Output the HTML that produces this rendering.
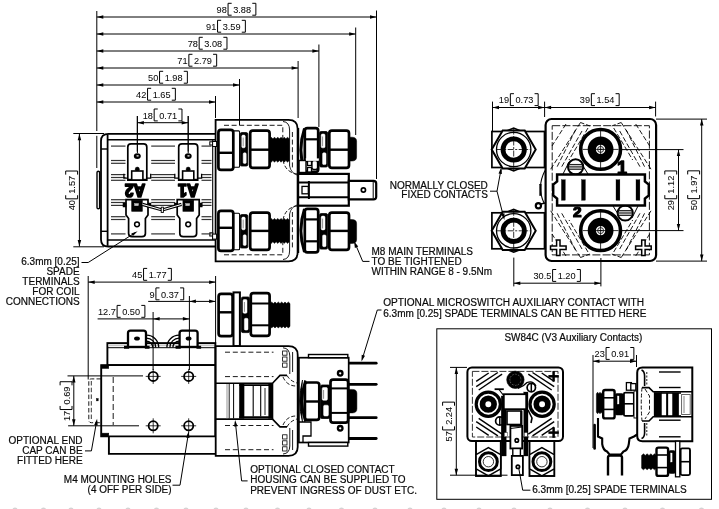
<!DOCTYPE html>
<html><head><meta charset="utf-8"><title>SW84 drawing</title>
<style>
html,body{margin:0;padding:0;background:#fff;}
body{width:719px;height:509px;overflow:hidden;}
svg{display:block;will-change:transform;font-family:"Liberation Sans",sans-serif;}
svg text{fill:#0a0a0a;stroke:#0a0a0a;stroke-width:0.2px;}
</style></head><body>
<svg width="719" height="509" viewBox="0 0 719 509">
<rect x="0" y="0" width="719" height="509" fill="#fff" stroke="none"/>
<path d="M216 133.8H108.5Q101 133.8 101 141V239.4Q101 246.5 108.5 246.5H216" stroke="#000" stroke-width="1.8" fill="#fff" />
<path d="M216 139.7H107.6" stroke="#000" stroke-width="1.5" fill="none" />
<path d="M216 240.1H107.6" stroke="#000" stroke-width="1.5" fill="none" />
<line x1="107.6" y1="134.5" x2="107.6" y2="245.8" stroke="#000" stroke-width="1.8" />
<line x1="101.0" y1="149.0" x2="107.6" y2="149.0" stroke="#000" stroke-width="1.4" />
<line x1="101.0" y1="231.3" x2="107.6" y2="231.3" stroke="#000" stroke-width="1.4" />
<line x1="212.7" y1="139.7" x2="212.7" y2="240.1" stroke="#000" stroke-width="1.1" />
<rect x="97.0" y="171.3" width="2.6" height="37.5" rx="1.3" stroke="#000" stroke-width="1.4" fill="#fff" />
<rect x="209.8" y="141.8" width="3.0" height="3.2" rx="0" stroke="#000" stroke-width="1.0" fill="#fff" />
<rect x="209.8" y="232.8" width="3.0" height="3.2" rx="0" stroke="#000" stroke-width="1.0" fill="#fff" />
<line x1="111.0" y1="146.1" x2="125.5" y2="146.1" stroke="#333" stroke-width="1.2" />
<line x1="151.2" y1="146.1" x2="175.0" y2="146.1" stroke="#333" stroke-width="1.2" />
<line x1="201.5" y1="146.1" x2="211.5" y2="146.1" stroke="#333" stroke-width="1.2" />
<line x1="111.0" y1="233.9" x2="125.5" y2="233.9" stroke="#333" stroke-width="1.2" />
<line x1="151.2" y1="233.9" x2="175.0" y2="233.9" stroke="#333" stroke-width="1.2" />
<line x1="201.5" y1="233.9" x2="211.5" y2="233.9" stroke="#333" stroke-width="1.2" />
<line x1="111.0" y1="160.5" x2="125.5" y2="160.5" stroke="#333" stroke-width="1.2" />
<line x1="151.2" y1="160.5" x2="175.0" y2="160.5" stroke="#333" stroke-width="1.2" />
<line x1="201.5" y1="160.5" x2="211.5" y2="160.5" stroke="#333" stroke-width="1.2" />
<line x1="111.0" y1="219.5" x2="125.5" y2="219.5" stroke="#333" stroke-width="1.2" />
<line x1="151.2" y1="219.5" x2="175.0" y2="219.5" stroke="#333" stroke-width="1.2" />
<line x1="201.5" y1="219.5" x2="211.5" y2="219.5" stroke="#333" stroke-width="1.2" />
<line x1="111.0" y1="163.3" x2="125.5" y2="163.3" stroke="#333" stroke-width="1.2" />
<line x1="151.2" y1="163.3" x2="175.0" y2="163.3" stroke="#333" stroke-width="1.2" />
<line x1="201.5" y1="163.3" x2="211.5" y2="163.3" stroke="#333" stroke-width="1.2" />
<line x1="111.0" y1="216.7" x2="125.5" y2="216.7" stroke="#333" stroke-width="1.2" />
<line x1="151.2" y1="216.7" x2="175.0" y2="216.7" stroke="#333" stroke-width="1.2" />
<line x1="201.5" y1="216.7" x2="211.5" y2="216.7" stroke="#333" stroke-width="1.2" />
<line x1="111.0" y1="174.6" x2="125.5" y2="174.6" stroke="#333" stroke-width="1.2" />
<line x1="151.2" y1="174.6" x2="175.0" y2="174.6" stroke="#333" stroke-width="1.2" />
<line x1="201.5" y1="174.6" x2="211.5" y2="174.6" stroke="#333" stroke-width="1.2" />
<line x1="111.0" y1="205.4" x2="125.5" y2="205.4" stroke="#333" stroke-width="1.2" />
<line x1="151.2" y1="205.4" x2="175.0" y2="205.4" stroke="#333" stroke-width="1.2" />
<line x1="201.5" y1="205.4" x2="211.5" y2="205.4" stroke="#333" stroke-width="1.2" />
<line x1="111.0" y1="177.5" x2="125.5" y2="177.5" stroke="#333" stroke-width="1.2" />
<line x1="151.2" y1="177.5" x2="175.0" y2="177.5" stroke="#333" stroke-width="1.2" />
<line x1="201.5" y1="177.5" x2="211.5" y2="177.5" stroke="#333" stroke-width="1.2" />
<line x1="111.0" y1="202.5" x2="125.5" y2="202.5" stroke="#333" stroke-width="1.2" />
<line x1="151.2" y1="202.5" x2="175.0" y2="202.5" stroke="#333" stroke-width="1.2" />
<line x1="201.5" y1="202.5" x2="211.5" y2="202.5" stroke="#333" stroke-width="1.2" />
<line x1="111.0" y1="180.3" x2="125.5" y2="180.3" stroke="#333" stroke-width="1.2" />
<line x1="151.2" y1="180.3" x2="175.0" y2="180.3" stroke="#333" stroke-width="1.2" />
<line x1="201.5" y1="180.3" x2="211.5" y2="180.3" stroke="#333" stroke-width="1.2" />
<line x1="111.0" y1="199.7" x2="125.5" y2="199.7" stroke="#333" stroke-width="1.2" />
<line x1="151.2" y1="199.7" x2="175.0" y2="199.7" stroke="#333" stroke-width="1.2" />
<line x1="201.5" y1="199.7" x2="211.5" y2="199.7" stroke="#333" stroke-width="1.2" />
<path d="M123.9 173.8V178.2H127.7" stroke="#000" stroke-width="1.3" fill="none" />
<path d="M150.7 173.8V178.2H146.9" stroke="#000" stroke-width="1.3" fill="none" />
<path d="M127.8 180.2V147Q127.8 143.8 131.0 143.8H143.6Q146.8 143.8 146.8 147V180.2Z" stroke="#000" stroke-width="1.7" fill="#fff" />
<line x1="127.8" y1="179.9" x2="146.8" y2="179.9" stroke="#000" stroke-width="2.2" />
<ellipse cx="137.3" cy="156.1" rx="3.5" ry="2.9" fill="#000"/>
<ellipse cx="137.6" cy="155.8" rx="1.3" ry="0.9" fill="#bbb"/>
<circle cx="137.3" cy="169.2" r="2.1" stroke="#000" stroke-width="0.5" fill="#000"/>
<rect x="131.7" y="171.0" width="11.2" height="9.0" rx="0" stroke="#000" stroke-width="1.6" fill="#fff" />
<line x1="137.3" y1="116.0" x2="137.3" y2="151.5" stroke="#000" stroke-width="1.0" />
<path d="M174.8 173.8V178.2H178.6" stroke="#000" stroke-width="1.3" fill="none" />
<path d="M201.6 173.8V178.2H197.8" stroke="#000" stroke-width="1.3" fill="none" />
<path d="M178.7 180.2V147Q178.7 143.8 181.9 143.8H194.5Q197.7 143.8 197.7 147V180.2Z" stroke="#000" stroke-width="1.7" fill="#fff" />
<line x1="178.7" y1="179.9" x2="197.7" y2="179.9" stroke="#000" stroke-width="2.2" />
<ellipse cx="188.2" cy="156.1" rx="3.5" ry="2.9" fill="#000"/>
<ellipse cx="188.5" cy="155.8" rx="1.3" ry="0.9" fill="#bbb"/>
<circle cx="188.2" cy="169.2" r="2.1" stroke="#000" stroke-width="0.5" fill="#000"/>
<rect x="182.6" y="171.0" width="11.2" height="9.0" rx="0" stroke="#000" stroke-width="1.6" fill="#fff" />
<line x1="188.2" y1="116.0" x2="188.2" y2="151.5" stroke="#000" stroke-width="1.0" />
<text transform="translate(135 184.0) rotate(180) scale(0.92 1)" font-size="17.5" font-weight="bold" text-anchor="middle" style="fill:#000;stroke:#000;stroke-width:1.7px;stroke-linejoin:round">A2</text>
<text transform="translate(188.3 184.0) rotate(180) scale(0.92 1)" font-size="17.5" font-weight="bold" text-anchor="middle" style="fill:#000;stroke:#000;stroke-width:1.7px;stroke-linejoin:round">A1</text>
<path d="M126.0 199.6H148.0V215L145.4 218.5V233.5Q145.4 236.6 142.0 236.6H132.0Q128.6 236.6 128.6 233.5V218.5L126.0 215Z" stroke="#000" stroke-width="1.7" fill="#fff" />
<rect x="123.0" y="203.0" width="3.0" height="4.0" rx="0" stroke="#000" stroke-width="0.5" fill="#000" />
<rect x="148.0" y="203.0" width="3.0" height="4.0" rx="0" stroke="#000" stroke-width="0.5" fill="#000" />
<rect x="131.8" y="200.2" width="10.4" height="11.0" rx="0" stroke="#000" stroke-width="0.8" fill="#000" />
<rect x="134.5" y="203.5" width="4.0" height="2.2" rx="0" stroke="#ccc" stroke-width="0.4" fill="#ccc" />
<circle cx="137.0" cy="224.3" r="2.4" stroke="#000" stroke-width="1.5" fill="#fff"/>
<path d="M177.2 199.6H199.2V215L196.6 218.5V233.5Q196.6 236.6 193.2 236.6H183.2Q179.8 236.6 179.8 233.5V218.5L177.2 215Z" stroke="#000" stroke-width="1.7" fill="#fff" />
<rect x="174.2" y="203.0" width="3.0" height="4.0" rx="0" stroke="#000" stroke-width="0.5" fill="#000" />
<rect x="199.2" y="203.0" width="3.0" height="4.0" rx="0" stroke="#000" stroke-width="0.5" fill="#000" />
<rect x="183.0" y="200.2" width="10.4" height="11.0" rx="0" stroke="#000" stroke-width="0.8" fill="#000" />
<rect x="185.7" y="203.5" width="4.0" height="2.2" rx="0" stroke="#ccc" stroke-width="0.4" fill="#ccc" />
<circle cx="188.2" cy="224.3" r="2.4" stroke="#000" stroke-width="1.5" fill="#fff"/>
<path d="M142.5 204.4L160.5 209.5H164L181.5 204.4" stroke="#000" stroke-width="3.2" fill="none" />
<path d="M142.5 204.4L160.5 209.5H164L181.5 204.4" stroke="#fff" stroke-width="1.0" fill="none" />
<rect x="161.2" y="207.2" width="2.2" height="5.2" rx="0" stroke="#000" stroke-width="0.9" fill="#fff" />
<path d="M215.6 119.8H288.5Q297.6 119.8 297.6 128.5V252.5Q297.6 261.3 288.5 261.3H215.6Z" stroke="#000" stroke-width="1.8" fill="#fff" />
<path d="M224 125.3H282.8V160" stroke="#000" stroke-width="0.9" fill="none" stroke-dasharray="5 2.6"/>
<path d="M224 254.8H282.8V220" stroke="#000" stroke-width="0.9" fill="none" stroke-dasharray="5 2.6"/>
<path d="M283 121.5Q289.5 122 289.6 130V166" stroke="#000" stroke-width="0.9" fill="none" />
<path d="M283 259.5Q289.5 259 289.6 251V214" stroke="#000" stroke-width="0.9" fill="none" />
<line x1="292.4" y1="132.0" x2="292.4" y2="168.0" stroke="#000" stroke-width="0.9" stroke-dasharray="5 2.6"/>
<line x1="292.4" y1="212.0" x2="292.4" y2="248.0" stroke="#000" stroke-width="0.9" stroke-dasharray="5 2.6"/>
<path d="M283 160Q285 172 297 174" stroke="#000" stroke-width="0.9" fill="none" stroke-dasharray="4 2"/>
<path d="M283 220Q285 208 297 206" stroke="#000" stroke-width="0.9" fill="none" stroke-dasharray="4 2"/>
<path d="M289.6 166Q291 173 297 175" stroke="#000" stroke-width="0.8" fill="none" />
<path d="M289.6 214Q291 207 297 205" stroke="#000" stroke-width="0.8" fill="none" />
<rect x="212.6" y="141.5" width="4.0" height="5.0" rx="0" stroke="#000" stroke-width="1.0" fill="#fff" />
<rect x="233.3" y="130.9" width="6.3" height="36.4" rx="1" stroke="#000" stroke-width="1.1" fill="#fff" />
<rect x="240.2" y="132.6" width="7.6" height="33.4" rx="1.5" stroke="#000" stroke-width="0.8" fill="#000" />
<rect x="241.8" y="135.1" width="3.4" height="12.7" rx="1.2" stroke="#fff" stroke-width="0.5" fill="#fff" />
<rect x="243.2" y="152.8" width="3.0" height="10.7" rx="1.2" stroke="#fff" stroke-width="0.5" fill="#fff" />
<line x1="243.2" y1="137.6" x2="243.2" y2="146.3" stroke="#444" stroke-width="0.6" />
<rect x="218.4" y="129.8" width="14.9" height="40.0" rx="2.6" stroke="#000" stroke-width="2.7" fill="#fff" />
<line x1="218.4" y1="152.8" x2="233.3" y2="152.8" stroke="#000" stroke-width="2.43" />
<rect x="250.2" y="130.7" width="19.4" height="37.2" rx="2.6" stroke="#000" stroke-width="2.7" fill="#fff" />
<line x1="250.2" y1="149.7" x2="269.6" y2="149.7" stroke="#000" stroke-width="2.43" />
<path d="M269.6 138.8L271.2 137.2L272.9 138.8L274.5 137.2L276.1 138.8L277.8 137.2L279.4 138.8L281.0 137.2L282.7 138.8L284.3 137.2L285.9 138.8L287.6 137.2L289.2 138.8L289.2 160.6L287.6 162.2L285.9 160.6L284.3 162.2L282.7 160.6L281.0 162.2L279.4 160.6L277.8 162.2L276.1 160.6L274.5 162.2L272.9 160.6L271.2 162.2L269.6 160.6Z" stroke="#000" stroke-width="0.5" fill="#000" />
<path d="M304.5 128.5Q297.3 150.0 304.5 171.5" stroke="#000" stroke-width="3.0" fill="none" />
<rect x="304.8" y="128.2" width="13.4" height="43.6" rx="2.6" stroke="#000" stroke-width="2.7" fill="#fff" />
<line x1="304.8" y1="139.3" x2="318.2" y2="139.3" stroke="#000" stroke-width="2.2" />
<line x1="304.8" y1="161.2" x2="318.2" y2="161.2" stroke="#000" stroke-width="2.2" />
<rect x="319.6" y="131.5" width="8.0" height="35.5" rx="1.5" stroke="#000" stroke-width="0.8" fill="#000" />
<rect x="321.2" y="134.0" width="3.8" height="13.8" rx="1.2" stroke="#fff" stroke-width="0.5" fill="#fff" />
<rect x="322.6" y="152.8" width="3.4" height="11.8" rx="1.2" stroke="#fff" stroke-width="0.5" fill="#fff" />
<line x1="322.6" y1="136.5" x2="322.6" y2="146.2" stroke="#444" stroke-width="0.6" />
<rect x="329.3" y="130.7" width="19.7" height="37.2" rx="2.6" stroke="#000" stroke-width="2.7" fill="#fff" />
<line x1="329.3" y1="149.7" x2="349.0" y2="149.7" stroke="#000" stroke-width="2.43" />
<path d="M349 137.2H352Q356.6 137.2 356.6 141.2V157.0Q356.6 161.0 352 161.0H349Z" stroke="#000" stroke-width="0.5" fill="#000" />
<rect x="299.0" y="160.5" width="7.0" height="12.0" rx="0" stroke="#000" stroke-width="1.4" fill="#fff" />
<rect x="307.5" y="161.0" width="4.0" height="4.5" rx="0" stroke="#000" stroke-width="1.3" fill="#fff" />
<rect x="307.5" y="167.5" width="4.0" height="4.5" rx="0" stroke="#000" stroke-width="1.3" fill="#fff" />
<rect x="312.0" y="160.5" width="5.5" height="9.0" rx="2" stroke="#000" stroke-width="1.3" fill="#fff" />
<rect x="306.0" y="158.6" width="12.8" height="2.2" rx="0" stroke="#fff" stroke-width="0.3" fill="#fff" />
<rect x="212.6" y="234.1" width="4.0" height="5.0" rx="0" stroke="#000" stroke-width="1.0" fill="#fff" />
<rect x="233.3" y="213.3" width="6.3" height="36.4" rx="1" stroke="#000" stroke-width="1.1" fill="#fff" />
<rect x="240.2" y="214.6" width="7.6" height="33.4" rx="1.5" stroke="#000" stroke-width="0.8" fill="#000" />
<rect x="241.8" y="217.1" width="3.4" height="12.7" rx="1.2" stroke="#fff" stroke-width="0.5" fill="#fff" />
<rect x="243.2" y="234.8" width="3.0" height="10.7" rx="1.2" stroke="#fff" stroke-width="0.5" fill="#fff" />
<line x1="243.2" y1="219.6" x2="243.2" y2="228.3" stroke="#444" stroke-width="0.6" />
<rect x="218.4" y="210.8" width="14.9" height="40.0" rx="2.6" stroke="#000" stroke-width="2.7" fill="#fff" />
<line x1="218.4" y1="227.8" x2="233.3" y2="227.8" stroke="#000" stroke-width="2.43" />
<rect x="250.2" y="212.7" width="19.4" height="37.2" rx="2.6" stroke="#000" stroke-width="2.7" fill="#fff" />
<line x1="250.2" y1="230.9" x2="269.6" y2="230.9" stroke="#000" stroke-width="2.43" />
<path d="M269.6 220.0L271.2 218.4L272.9 220.0L274.5 218.4L276.1 220.0L277.8 218.4L279.4 220.0L281.0 218.4L282.7 220.0L284.3 218.4L285.9 220.0L287.6 218.4L289.2 220.0L289.2 241.8L287.6 243.4L285.9 241.8L284.3 243.4L282.7 241.8L281.0 243.4L279.4 241.8L277.8 243.4L276.1 241.8L274.5 243.4L272.9 241.8L271.2 243.4L269.6 241.8Z" stroke="#000" stroke-width="0.5" fill="#000" />
<path d="M304.5 252.1Q297.3 230.6 304.5 209.1" stroke="#000" stroke-width="3.0" fill="none" />
<rect x="304.8" y="208.8" width="13.4" height="43.6" rx="2.6" stroke="#000" stroke-width="2.7" fill="#fff" />
<line x1="304.8" y1="241.3" x2="318.2" y2="241.3" stroke="#000" stroke-width="2.2" />
<line x1="304.8" y1="219.4" x2="318.2" y2="219.4" stroke="#000" stroke-width="2.2" />
<rect x="319.6" y="213.6" width="8.0" height="35.5" rx="1.5" stroke="#000" stroke-width="0.8" fill="#000" />
<rect x="321.2" y="216.1" width="3.8" height="13.8" rx="1.2" stroke="#fff" stroke-width="0.5" fill="#fff" />
<rect x="322.6" y="234.9" width="3.4" height="11.8" rx="1.2" stroke="#fff" stroke-width="0.5" fill="#fff" />
<line x1="322.6" y1="218.6" x2="322.6" y2="228.4" stroke="#444" stroke-width="0.6" />
<rect x="329.3" y="212.7" width="19.7" height="37.2" rx="2.6" stroke="#000" stroke-width="2.7" fill="#fff" />
<line x1="329.3" y1="230.9" x2="349.0" y2="230.9" stroke="#000" stroke-width="2.43" />
<path d="M349 219.6H352Q356.6 219.6 356.6 223.6V239.4Q356.6 243.4 352 243.4H349Z" stroke="#000" stroke-width="0.5" fill="#000" />
<line x1="298.1" y1="128.0" x2="298.1" y2="253.0" stroke="#000" stroke-width="2.2" />
<rect x="298.1" y="173.9" width="50.7" height="31.8" rx="0" stroke="#000" stroke-width="2.2" fill="#fff" />
<line x1="299.0" y1="182.5" x2="348.8" y2="182.5" stroke="#000" stroke-width="2.0" />
<line x1="299.0" y1="197.3" x2="348.8" y2="197.3" stroke="#000" stroke-width="2.0" />
<line x1="308.9" y1="181.0" x2="308.9" y2="199.0" stroke="#000" stroke-width="2.0" />
<rect x="302.0" y="186.4" width="6.3" height="7.4" rx="0" stroke="#000" stroke-width="1.3" fill="#fff" />
<path d="M348.8 180.9H373.5Q376.2 180.9 376.2 183.5V196.8Q376.2 199.4 373.5 199.4H348.8Z" stroke="#000" stroke-width="2.2" fill="#fff" />
<line x1="373.2" y1="182.0" x2="373.2" y2="198.5" stroke="#000" stroke-width="1.0" />
<circle cx="363.4" cy="190.0" r="2.1" stroke="#000" stroke-width="1.7" fill="#fff"/>
<rect x="491.9" y="131.5" width="52.6" height="36.0" rx="0" stroke="#000" stroke-width="1.7" fill="#fff" />
<path d="M506.7 130.9L513.7 128.1L520.7 130.9" stroke="#000" stroke-width="1.6" fill="#fff" />
<path d="M506.7 168.1L513.7 170.9L520.7 168.1" stroke="#000" stroke-width="1.6" fill="#fff" />
<path d="M535.7 149.5L524.7 168.6L502.7 168.6L491.7 149.5L502.7 130.4L524.7 130.4Z" stroke="#000" stroke-width="2.0" fill="#fff" />
<circle cx="513.7" cy="149.5" r="17.2" stroke="#000" stroke-width="1.3" fill="none"/>
<circle cx="513.7" cy="149.5" r="10.7" stroke="#000" stroke-width="4.8" fill="none"/>
<line x1="496.7" y1="149.5" x2="530.7" y2="149.5" stroke="#000" stroke-width="0.8" stroke-dasharray="6 1.5 2 1.5"/>
<line x1="513.7" y1="128.5" x2="513.7" y2="170.5" stroke="#000" stroke-width="0.8" stroke-dasharray="6 1.5 2 1.5"/>
<rect x="491.9" y="212.8" width="52.6" height="36.0" rx="0" stroke="#000" stroke-width="1.7" fill="#fff" />
<path d="M506.7 212.2L513.7 209.4L520.7 212.2" stroke="#000" stroke-width="1.6" fill="#fff" />
<path d="M506.7 249.4L513.7 252.2L520.7 249.4" stroke="#000" stroke-width="1.6" fill="#fff" />
<path d="M535.7 230.8L524.7 249.9L502.7 249.9L491.7 230.8L502.7 211.7L524.7 211.7Z" stroke="#000" stroke-width="2.0" fill="#fff" />
<circle cx="513.7" cy="230.8" r="17.2" stroke="#000" stroke-width="1.3" fill="none"/>
<circle cx="513.7" cy="230.8" r="10.7" stroke="#000" stroke-width="4.8" fill="none"/>
<line x1="496.7" y1="230.8" x2="530.7" y2="230.8" stroke="#000" stroke-width="0.8" stroke-dasharray="6 1.5 2 1.5"/>
<line x1="513.7" y1="209.8" x2="513.7" y2="251.8" stroke="#000" stroke-width="0.8" stroke-dasharray="6 1.5 2 1.5"/>
<path d="M545 170.5Q536.5 187 544 203" stroke="#000" stroke-width="1.1" fill="none" />
<rect x="539.6" y="184.2" width="1.7" height="11.4" rx="0" stroke="#000" stroke-width="0.4" fill="#000" />
<circle cx="538.4" cy="205.7" r="2.6" stroke="#000" stroke-width="2.2" fill="#fff"/>
<path d="M541 204L545 203" stroke="#000" stroke-width="1.4" fill="none" />
<rect x="545.6" y="119.0" width="110.5" height="142.0" rx="6" stroke="#000" stroke-width="2.2" fill="#fff" />
<rect x="552.2" y="125.7" width="97.2" height="129.2" rx="0" stroke="#000" stroke-width="0.9" fill="none" stroke-dasharray="8 2.2"/>
<line x1="580.5" y1="122.5" x2="550.5" y2="169.5" stroke="#000" stroke-width="0.9" stroke-dasharray="5 2.2"/>
<line x1="580.5" y1="257.5" x2="550.5" y2="210.5" stroke="#000" stroke-width="0.9" stroke-dasharray="5 2.2"/>
<line x1="621.2" y1="122.5" x2="651.2" y2="169.5" stroke="#000" stroke-width="0.9" stroke-dasharray="5 2.2"/>
<line x1="621.2" y1="257.5" x2="651.2" y2="210.5" stroke="#000" stroke-width="0.9" stroke-dasharray="5 2.2"/>
<line x1="575.5" y1="130.0" x2="556.5" y2="168.0" stroke="#000" stroke-width="0.9" stroke-dasharray="5 2.2"/>
<line x1="575.5" y1="250.0" x2="556.5" y2="212.0" stroke="#000" stroke-width="0.9" stroke-dasharray="5 2.2"/>
<line x1="626.2" y1="130.0" x2="645.2" y2="168.0" stroke="#000" stroke-width="0.9" stroke-dasharray="5 2.2"/>
<line x1="626.2" y1="250.0" x2="645.2" y2="212.0" stroke="#000" stroke-width="0.9" stroke-dasharray="5 2.2"/>
<line x1="582.0" y1="131.0" x2="561.0" y2="168.0" stroke="#000" stroke-width="0.9" stroke-dasharray="5 2.2"/>
<line x1="582.0" y1="249.0" x2="561.0" y2="212.0" stroke="#000" stroke-width="0.9" stroke-dasharray="5 2.2"/>
<line x1="619.7" y1="131.0" x2="640.7" y2="168.0" stroke="#000" stroke-width="0.9" stroke-dasharray="5 2.2"/>
<line x1="619.7" y1="249.0" x2="640.7" y2="212.0" stroke="#000" stroke-width="0.9" stroke-dasharray="5 2.2"/>
<line x1="588.0" y1="128.0" x2="569.0" y2="160.0" stroke="#000" stroke-width="0.9" stroke-dasharray="5 2.2"/>
<line x1="588.0" y1="252.0" x2="569.0" y2="220.0" stroke="#000" stroke-width="0.9" stroke-dasharray="5 2.2"/>
<line x1="613.7" y1="128.0" x2="632.7" y2="160.0" stroke="#000" stroke-width="0.9" stroke-dasharray="5 2.2"/>
<line x1="613.7" y1="252.0" x2="632.7" y2="220.0" stroke="#000" stroke-width="0.9" stroke-dasharray="5 2.2"/>
<line x1="566.0" y1="124.0" x2="552.0" y2="146.0" stroke="#000" stroke-width="0.9" stroke-dasharray="5 2.2"/>
<line x1="566.0" y1="256.0" x2="552.0" y2="234.0" stroke="#000" stroke-width="0.9" stroke-dasharray="5 2.2"/>
<line x1="635.7" y1="124.0" x2="649.7" y2="146.0" stroke="#000" stroke-width="0.9" stroke-dasharray="5 2.2"/>
<line x1="635.7" y1="256.0" x2="649.7" y2="234.0" stroke="#000" stroke-width="0.9" stroke-dasharray="5 2.2"/>
<line x1="580.5" y1="122.5" x2="590.0" y2="126.0" stroke="#000" stroke-width="0.9" stroke-dasharray="4 2"/>
<line x1="621.2" y1="122.5" x2="611.7" y2="126.0" stroke="#000" stroke-width="0.9" stroke-dasharray="4 2"/>
<line x1="580.5" y1="257.5" x2="590.0" y2="254.0" stroke="#000" stroke-width="0.9" stroke-dasharray="4 2"/>
<line x1="621.2" y1="257.5" x2="611.7" y2="254.0" stroke="#000" stroke-width="0.9" stroke-dasharray="4 2"/>
<path d="M563 174L569 162" stroke="#000" stroke-width="1.0" fill="none" />
<path d="M588 174L583 166" stroke="#000" stroke-width="1.0" fill="none" />
<path d="M638 206L632 218" stroke="#000" stroke-width="1.0" fill="none" />
<path d="M613 206L618 214" stroke="#000" stroke-width="1.0" fill="none" />
<circle cx="575.6" cy="166.9" r="7.6" stroke="#000" stroke-width="2.0" fill="#fff"/>
<line x1="569.0" y1="164.6" x2="582.2" y2="164.6" stroke="#222" stroke-width="1.3" />
<line x1="568.6" y1="166.9" x2="582.6" y2="166.9" stroke="#222" stroke-width="1.3" />
<line x1="569.0" y1="169.2" x2="582.2" y2="169.2" stroke="#222" stroke-width="1.3" />
<circle cx="625.2" cy="213.0" r="7.6" stroke="#000" stroke-width="2.0" fill="#fff"/>
<line x1="618.6" y1="210.7" x2="631.8" y2="210.7" stroke="#222" stroke-width="1.3" />
<line x1="618.2" y1="213.0" x2="632.2" y2="213.0" stroke="#222" stroke-width="1.3" />
<line x1="618.6" y1="215.3" x2="631.8" y2="215.3" stroke="#222" stroke-width="1.3" />
<circle cx="600.6" cy="149.4" r="19.9" stroke="#000" stroke-width="3.6" fill="#fff"/>
<circle cx="600.6" cy="149.4" r="8.8" stroke="#000" stroke-width="8.2" fill="#fff"/>
<circle cx="600.6" cy="149.4" r="3.0" stroke="#000" stroke-width="0.8" fill="none"/>
<line x1="582.6" y1="149.4" x2="618.6" y2="149.4" stroke="#000" stroke-width="0.8" />
<line x1="600.6" y1="128.4" x2="600.6" y2="170.4" stroke="#000" stroke-width="0.8" />
<line x1="598.6" y1="149.4" x2="602.6" y2="149.4" stroke="#000" stroke-width="0.8" />
<circle cx="600.6" cy="230.6" r="19.9" stroke="#000" stroke-width="3.6" fill="#fff"/>
<circle cx="600.6" cy="230.6" r="8.8" stroke="#000" stroke-width="8.2" fill="#fff"/>
<circle cx="600.6" cy="230.6" r="3.0" stroke="#000" stroke-width="0.8" fill="none"/>
<line x1="582.6" y1="230.6" x2="618.6" y2="230.6" stroke="#000" stroke-width="0.8" />
<line x1="600.6" y1="209.6" x2="600.6" y2="251.6" stroke="#000" stroke-width="0.8" />
<line x1="598.6" y1="230.6" x2="602.6" y2="230.6" stroke="#000" stroke-width="0.8" />
<path d="M557.1 174.4H644.9V181.5L648.8 184.5V195.5L644.9 198.5V205.4H557.1V198.5L553.2 195.5V184.5L557.1 181.5Z" stroke="#000" stroke-width="2.5" fill="#fff" />
<rect x="561.4" y="179.7" width="3.9" height="20.6" rx="0" stroke="#000" stroke-width="0.3" fill="#000" />
<rect x="581.5" y="179.7" width="3.9" height="20.6" rx="0" stroke="#000" stroke-width="0.3" fill="#000" />
<rect x="616.0" y="179.7" width="3.9" height="20.6" rx="0" stroke="#000" stroke-width="0.3" fill="#000" />
<rect x="636.0" y="179.7" width="3.9" height="20.6" rx="0" stroke="#000" stroke-width="0.3" fill="#000" />
<text x="622" y="173.9" font-size="18" font-weight="bold" text-anchor="middle" style="fill:#000;stroke:#000;stroke-width:1.3px;stroke-linejoin:round">1</text>
<text x="577.2" y="217.3" font-size="15.5" font-weight="bold" text-anchor="middle" style="fill:#000;stroke:#000;stroke-width:1.2px;stroke-linejoin:round">2</text>
<path d="M556.5999999999999 240.0H560.0V246.10000000000002H566.0999999999999V249.5H560.0V255.60000000000002H556.5999999999999V249.5H550.5V246.10000000000002H556.5999999999999Z" stroke="#000" stroke-width="1.5" fill="#fff" />
<path d="M641.6999999999999 240.0H645.1V246.10000000000002H651.1999999999999V249.5H645.1V255.60000000000002H641.6999999999999V249.5H635.6V246.10000000000002H641.6999999999999Z" stroke="#000" stroke-width="1.5" fill="#fff" />
<path d="M101 378.9H91.5Q88.8 378.9 88.8 381.5V420Q88.8 422.7 91.5 422.7H101" stroke="#000" stroke-width="0.9" fill="none" stroke-dasharray="4.5 2.2"/>
<path d="M91.3 381V421" stroke="#000" stroke-width="0.8" fill="none" stroke-dasharray="4.5 2.2"/>
<rect x="96.4" y="398.5" width="1.8" height="2.4" rx="0" stroke="#000" stroke-width="0.4" fill="#000" />
<rect x="107.4" y="343.1" width="107.9" height="22.0" rx="0" stroke="#000" stroke-width="1.9" fill="#fff" />
<line x1="107.4" y1="347.7" x2="215.3" y2="347.7" stroke="#000" stroke-width="1.0" />
<line x1="108.5" y1="345.4" x2="214.0" y2="345.4" stroke="#c9c9c9" stroke-width="1.6" />
<path d="M101.2 365.1H215.3V436.4H101.2Z" stroke="#000" stroke-width="1.9" fill="#fff" />
<rect x="101.2" y="365.1" width="7.5" height="3.2" rx="0" stroke="#000" stroke-width="0.6" fill="#000" />
<rect x="101.2" y="433.2" width="7.5" height="3.2" rx="0" stroke="#000" stroke-width="0.6" fill="#000" />
<path d="M108.9 436.4V453.9H215.6" stroke="#000" stroke-width="1.9" fill="none" />
<line x1="113.2" y1="377.0" x2="113.2" y2="425.0" stroke="#000" stroke-width="0.9" stroke-dasharray="6 3"/>
<path d="M146.5 335.2A12.2 12.2 0 0 1 158.7 347.4" stroke="#000" stroke-width="1.3" fill="none" />
<path d="M179.1 335.2A12.2 12.2 0 0 0 166.9 347.4" stroke="#000" stroke-width="1.3" fill="none" />
<path d="M146.5 338.2A9.2 9.2 0 0 1 155.7 347.4" stroke="#000" stroke-width="1.3" fill="none" />
<path d="M179.1 338.2A9.2 9.2 0 0 0 169.9 347.4" stroke="#000" stroke-width="1.3" fill="none" />
<path d="M146.5 341.2A6.2 6.2 0 0 1 152.7 347.4" stroke="#000" stroke-width="1.3" fill="none" />
<path d="M179.1 341.2A6.2 6.2 0 0 0 172.9 347.4" stroke="#000" stroke-width="1.3" fill="none" />
<path d="M124.0 347.6H128.0V333Q128.0 330.6 130.5 330.6H143.5Q146.0 330.6 146.0 333V347.6H149.5" stroke="#000" stroke-width="2.3" fill="#fff" />
<line x1="124.0" y1="346.9" x2="149.5" y2="346.9" stroke="#000" stroke-width="2.2" />
<ellipse cx="137.0" cy="338.6" rx="2.9" ry="2" fill="#000"/>
<path d="M175.6 347.6H179.6V333Q179.6 330.6 182.1 330.6H195.1Q197.6 330.6 197.6 333V347.6H201.1" stroke="#000" stroke-width="2.3" fill="#fff" />
<line x1="175.6" y1="346.9" x2="201.1" y2="346.9" stroke="#000" stroke-width="2.2" />
<ellipse cx="188.6" cy="338.6" rx="2.9" ry="2" fill="#000"/>
<circle cx="153.2" cy="376.4" r="4.6" stroke="#000" stroke-width="1.8" fill="#fff"/>
<line x1="145.7" y1="376.4" x2="160.7" y2="376.4" stroke="#000" stroke-width="0.8" />
<line x1="153.2" y1="368.9" x2="153.2" y2="383.9" stroke="#000" stroke-width="0.8" />
<circle cx="153.2" cy="425.8" r="4.6" stroke="#000" stroke-width="1.8" fill="#fff"/>
<line x1="145.7" y1="425.8" x2="160.7" y2="425.8" stroke="#000" stroke-width="0.8" />
<line x1="153.2" y1="418.3" x2="153.2" y2="433.3" stroke="#000" stroke-width="0.8" />
<circle cx="188.7" cy="376.4" r="4.6" stroke="#000" stroke-width="1.8" fill="#fff"/>
<line x1="181.2" y1="376.4" x2="196.2" y2="376.4" stroke="#000" stroke-width="0.8" />
<line x1="188.7" y1="368.9" x2="188.7" y2="383.9" stroke="#000" stroke-width="0.8" />
<circle cx="188.7" cy="425.8" r="4.6" stroke="#000" stroke-width="1.8" fill="#fff"/>
<line x1="181.2" y1="425.8" x2="196.2" y2="425.8" stroke="#000" stroke-width="0.8" />
<line x1="188.7" y1="418.3" x2="188.7" y2="433.3" stroke="#000" stroke-width="0.8" />
<rect x="233.5" y="292.4" width="6.4" height="53.7" rx="0" stroke="#000" stroke-width="2.0" fill="#fff" />
<rect x="218.6" y="293.9" width="14.0" height="42.3" rx="2.6" stroke="#000" stroke-width="2.7" fill="#fff" />
<line x1="218.6" y1="312.3" x2="232.6" y2="312.3" stroke="#000" stroke-width="2.43" />
<rect x="241.4" y="297.0" width="8.2" height="35.6" rx="1.5" stroke="#000" stroke-width="0.8" fill="#000" />
<rect x="243.0" y="299.5" width="4.0" height="13.8" rx="1.2" stroke="#fff" stroke-width="0.5" fill="#fff" />
<rect x="244.4" y="318.3" width="3.6" height="11.8" rx="1.2" stroke="#fff" stroke-width="0.5" fill="#fff" />
<line x1="244.4" y1="302.0" x2="244.4" y2="311.8" stroke="#444" stroke-width="0.6" />
<rect x="250.8" y="293.2" width="18.8" height="42.6" rx="2.6" stroke="#000" stroke-width="2.7" fill="#fff" />
<line x1="250.8" y1="303.5" x2="269.6" y2="303.5" stroke="#000" stroke-width="2.0" />
<line x1="250.8" y1="325.3" x2="269.6" y2="325.3" stroke="#000" stroke-width="2.0" />
<path d="M270.0 303.6L271.7 302.0L273.3 303.6L275.0 302.0L276.7 303.6L278.3 302.0L280.0 303.6L281.7 302.0L283.3 303.6L285.0 302.0L286.7 303.6L288.3 302.0L290.0 303.6L290.0 326.4L288.3 328.0L286.7 326.4L285.0 328.0L283.3 326.4L281.7 328.0L280.0 326.4L278.3 328.0L276.7 326.4L275.0 328.0L273.3 326.4L271.7 328.0L270.0 326.4Z" stroke="#000" stroke-width="0.5" fill="#000" />
<path d="M215.7 346.1H288.5Q297.7 346.1 297.7 355V447Q297.7 455.8 288.5 455.8H215.7Z" stroke="#000" stroke-width="1.8" fill="#fff" />
<line x1="225.0" y1="352.2" x2="273.5" y2="352.2" stroke="#000" stroke-width="0.9" stroke-dasharray="5 2.8"/>
<line x1="225.0" y1="376.6" x2="273.5" y2="376.6" stroke="#000" stroke-width="0.9" stroke-dasharray="5 2.8"/>
<line x1="225.0" y1="425.5" x2="273.5" y2="425.5" stroke="#000" stroke-width="0.9" stroke-dasharray="5 2.8"/>
<line x1="225.0" y1="449.7" x2="273.5" y2="449.7" stroke="#000" stroke-width="0.9" stroke-dasharray="5 2.8"/>
<path d="M215.7 383.2H272.5L280 375.4H287" stroke="#000" stroke-width="1.6" fill="none" />
<path d="M215.7 419.1H272.5L280 426.9H287" stroke="#000" stroke-width="1.6" fill="none" />
<line x1="272.5" y1="383.2" x2="272.5" y2="419.1" stroke="#000" stroke-width="1.6" />
<rect x="239.3" y="384.0" width="4.8" height="34.4" rx="0" stroke="#000" stroke-width="0.3" fill="#000" />
<rect x="268.6" y="384.0" width="4.2" height="34.4" rx="0" stroke="#000" stroke-width="0.3" fill="#000" />
<line x1="239.3" y1="385.2" x2="272.0" y2="385.2" stroke="#000" stroke-width="1.8" />
<line x1="239.3" y1="417.2" x2="272.0" y2="417.2" stroke="#000" stroke-width="1.8" />
<line x1="227.0" y1="384.0" x2="227.0" y2="418.4" stroke="#888" stroke-width="0.9" />
<line x1="229.2" y1="384.0" x2="229.2" y2="418.4" stroke="#000" stroke-width="0.9" />
<line x1="233.6" y1="384.0" x2="233.6" y2="418.4" stroke="#000" stroke-width="1.0" />
<line x1="253.2" y1="386.0" x2="253.2" y2="416.5" stroke="#000" stroke-width="1.1" />
<line x1="260.7" y1="386.0" x2="260.7" y2="416.5" stroke="#000" stroke-width="1.1" />
<line x1="265.0" y1="388.0" x2="265.0" y2="415.0" stroke="#777" stroke-width="1.6" />
<path d="M283 347.8Q289.7 348.3 289.8 356V374" stroke="#000" stroke-width="0.9" fill="none" />
<path d="M283 454Q289.7 453.5 289.8 446V428" stroke="#000" stroke-width="0.9" fill="none" />
<line x1="292.6" y1="352.0" x2="292.6" y2="372.0" stroke="#000" stroke-width="0.9" />
<line x1="292.6" y1="430.0" x2="292.6" y2="450.0" stroke="#000" stroke-width="0.9" />
<rect x="282.6" y="351.0" width="4.4" height="4.2" rx="0" stroke="#000" stroke-width="0.8" fill="#fff" />
<rect x="282.6" y="446.8" width="4.4" height="4.2" rx="0" stroke="#000" stroke-width="0.8" fill="#fff" />
<rect x="282.6" y="357.0" width="4.4" height="4.2" rx="0" stroke="#000" stroke-width="0.8" fill="#fff" />
<rect x="282.6" y="440.8" width="4.4" height="4.2" rx="0" stroke="#000" stroke-width="0.8" fill="#fff" />
<rect x="282.6" y="363.0" width="4.4" height="4.2" rx="0" stroke="#000" stroke-width="0.8" fill="#fff" />
<rect x="282.6" y="434.8" width="4.4" height="4.2" rx="0" stroke="#000" stroke-width="0.8" fill="#fff" />
<path d="M287 375.4Q290 381 297 383" stroke="#000" stroke-width="0.9" fill="none" stroke-dasharray="4 2"/>
<path d="M287 426.9Q290 421 297 419" stroke="#000" stroke-width="0.9" fill="none" stroke-dasharray="4 2"/>
<path d="M283 377Q287 386 296 386" stroke="#000" stroke-width="0.9" fill="none" stroke-dasharray="4 2"/>
<path d="M283 425Q287 416 296 416" stroke="#000" stroke-width="0.9" fill="none" stroke-dasharray="4 2"/>
<line x1="349" y1="363.2" x2="376.2" y2="363.2" stroke="#000" stroke-width="2.8" stroke-linecap="round"/>
<line x1="349" y1="384.3" x2="376.2" y2="384.3" stroke="#000" stroke-width="2.8" stroke-linecap="round"/>
<line x1="349" y1="417.7" x2="376.2" y2="417.7" stroke="#000" stroke-width="2.8" stroke-linecap="round"/>
<line x1="349" y1="438.5" x2="376.2" y2="438.5" stroke="#000" stroke-width="2.8" stroke-linecap="round"/>
<rect x="298.9" y="357.7" width="49.8" height="84.8" rx="0" stroke="#000" stroke-width="1.7" fill="#fff" />
<rect x="308.5" y="354.5" width="39.3" height="3.2" rx="0" stroke="#000" stroke-width="1.4" fill="#fff" />
<rect x="308.5" y="442.5" width="39.3" height="3.6" rx="0" stroke="#000" stroke-width="1.4" fill="#fff" />
<circle cx="340.2" cy="373.3" r="2.3" stroke="#000" stroke-width="2.3" fill="#fff"/>
<circle cx="340.2" cy="428.3" r="2.3" stroke="#000" stroke-width="2.3" fill="#fff"/>
<path d="M298.9 422H311V436H303V442" stroke="#000" stroke-width="1.3" fill="none" />
<path d="M302.5 380Q297.2 401 302.5 422" stroke="#000" stroke-width="1.0" fill="#000" />
<path d="M305.5 380.5Q298.5 401 305.5 421.5" stroke="#000" stroke-width="2.6" fill="none" />
<rect x="304.9" y="382.5" width="14.4" height="37.3" rx="2.6" stroke="#000" stroke-width="2.7" fill="#fff" />
<line x1="304.9" y1="401.5" x2="319.3" y2="401.5" stroke="#000" stroke-width="2.43" />
<rect x="320.6" y="385.0" width="9.4" height="33.5" rx="1.5" stroke="#000" stroke-width="0.8" fill="#000" />
<rect x="322.2" y="387.5" width="5.2" height="12.8" rx="1.2" stroke="#fff" stroke-width="0.5" fill="#fff" />
<rect x="323.6" y="405.2" width="4.8" height="10.8" rx="1.2" stroke="#fff" stroke-width="0.5" fill="#fff" />
<line x1="323.6" y1="390.0" x2="323.6" y2="398.8" stroke="#444" stroke-width="0.6" />
<rect x="330.5" y="379.6" width="17.6" height="43.0" rx="2.6" stroke="#000" stroke-width="2.7" fill="#fff" />
<line x1="330.5" y1="388.4" x2="348.1" y2="388.4" stroke="#000" stroke-width="2.0" />
<line x1="330.5" y1="412.9" x2="348.1" y2="412.9" stroke="#000" stroke-width="2.0" />
<path d="M348.6 389.4H352.5Q356.9 389.4 356.9 393.5V408.8Q356.9 412.9 352.5 412.9H348.6Z" stroke="#000" stroke-width="0.5" fill="#000" />
<rect x="436.8" y="328.8" width="274.7" height="170.5" rx="0" stroke="#000" stroke-width="1.0" fill="none" />
<text transform="translate(504.4 341.3)" font-size="10.00" text-anchor="start" font-weight="normal" textLength="138.0" lengthAdjust="spacingAndGlyphs" >SW84C (V3 Auxiliary Contacts)</text>
<text transform="translate(532.2 493.4)" font-size="10.00" text-anchor="start" font-weight="normal" textLength="154.6" lengthAdjust="spacingAndGlyphs" >6.3mm [0.25] SPADE TERMINALS</text>
<rect x="476.0" y="441.0" width="24.8" height="35.0" rx="0" stroke="#000" stroke-width="1.9" fill="#fff" />
<path d="M500.7 468.8L488.4 475.9L476.1 468.8L476.1 454.6L488.4 447.5L500.7 454.6Z" stroke="#000" stroke-width="1.5" fill="#fff" />
<circle cx="488.4" cy="461.7" r="8.9" stroke="#000" stroke-width="3.0" fill="#fff"/>
<circle cx="488.4" cy="461.7" r="5.2" stroke="#000" stroke-width="0.8" fill="none"/>
<rect x="529.5" y="441.0" width="24.8" height="35.0" rx="0" stroke="#000" stroke-width="1.9" fill="#fff" />
<path d="M554.2 468.8L541.9 475.9L529.6 468.8L529.6 454.6L541.9 447.5L554.2 454.6Z" stroke="#000" stroke-width="1.5" fill="#fff" />
<circle cx="541.9" cy="461.7" r="8.9" stroke="#000" stroke-width="3.0" fill="#fff"/>
<circle cx="541.9" cy="461.7" r="5.2" stroke="#000" stroke-width="0.8" fill="none"/>
<rect x="467.4" y="367.4" width="95.6" height="73.6" rx="4.5" stroke="#000" stroke-width="2.0" fill="#fff" />
<rect x="472.4" y="371.4" width="85.6" height="65.6" rx="0" stroke="#000" stroke-width="0.8" fill="none" stroke-dasharray="7 2"/>
<line x1="476.2" y1="381.4" x2="488.7" y2="373.0" stroke="#000" stroke-width="1.4" />
<line x1="476.2" y1="427.0" x2="488.7" y2="435.4" stroke="#000" stroke-width="1.4" />
<line x1="554.2" y1="381.4" x2="541.7" y2="373.0" stroke="#000" stroke-width="1.4" />
<line x1="554.2" y1="427.0" x2="541.7" y2="435.4" stroke="#000" stroke-width="1.4" />
<line x1="476.2" y1="386.7" x2="497.9" y2="372.5" stroke="#000" stroke-width="1.4" />
<line x1="476.2" y1="421.7" x2="497.9" y2="435.9" stroke="#000" stroke-width="1.4" />
<line x1="554.2" y1="386.7" x2="532.5" y2="372.5" stroke="#000" stroke-width="1.4" />
<line x1="554.2" y1="421.7" x2="532.5" y2="435.9" stroke="#000" stroke-width="1.4" />
<line x1="478.7" y1="390.0" x2="502.1" y2="374.2" stroke="#000" stroke-width="1.4" />
<line x1="478.7" y1="418.4" x2="502.1" y2="434.2" stroke="#000" stroke-width="1.4" />
<line x1="551.7" y1="390.0" x2="528.3" y2="374.2" stroke="#000" stroke-width="1.4" />
<line x1="551.7" y1="418.4" x2="528.3" y2="434.2" stroke="#000" stroke-width="1.4" />
<line x1="548.4" y1="376.3" x2="558.8" y2="376.3" stroke="#000" stroke-width="2.5" />
<line x1="553.6" y1="371.1" x2="553.6" y2="381.5" stroke="#000" stroke-width="2.5" />
<line x1="548.4" y1="432.6" x2="558.8" y2="432.6" stroke="#000" stroke-width="2.5" />
<line x1="553.6" y1="427.4" x2="553.6" y2="437.8" stroke="#000" stroke-width="2.5" />
<circle cx="515.4" cy="379.8" r="8.7" stroke="#000" stroke-width="0.6" fill="#000"/>
<circle cx="515.4" cy="379.8" r="5.6" stroke="#555" stroke-width="1.0" fill="none"/>
<circle cx="515.4" cy="379.8" r="5.6" fill="none" stroke="#000" stroke-width="1.2" stroke-dasharray="1.5 1.5"/>
<path d="M518 388.5Q524 386 527 382.5Q533 380 536 386" stroke="#000" stroke-width="1.2" fill="none" />
<circle cx="531.3" cy="387.6" r="4.2" stroke="#000" stroke-width="1.7" fill="#fff"/>
<line x1="531.3" y1="383.6" x2="531.3" y2="391.6" stroke="#000" stroke-width="1.5" />
<circle cx="499.8" cy="421.0" r="4.2" stroke="#000" stroke-width="1.7" fill="#fff"/>
<line x1="499.8" y1="417.0" x2="499.8" y2="425.0" stroke="#000" stroke-width="1.5" />
<circle cx="488.3" cy="404.2" r="12.1" stroke="#000" stroke-width="3.2" fill="#fff"/>
<circle cx="488.3" cy="404.2" r="5.8" stroke="#000" stroke-width="5.7" fill="#fff"/>
<circle cx="542.1" cy="404.2" r="12.1" stroke="#000" stroke-width="3.2" fill="#fff"/>
<circle cx="542.1" cy="404.2" r="5.8" stroke="#000" stroke-width="5.7" fill="#fff"/>
<line x1="494.6" y1="389.2" x2="503.8" y2="389.2" stroke="#000" stroke-width="1.8" />
<path d="M499 389.5L504 396" stroke="#000" stroke-width="1.2" fill="none" />
<rect x="501.2" y="396.0" width="5.0" height="60.0" rx="0" stroke="#000" stroke-width="0.3" fill="#000" />
<rect x="523.8" y="392.0" width="4.2" height="64.0" rx="0" stroke="#000" stroke-width="0.3" fill="#000" />
<path d="M528 410L532 418L531 423" stroke="#000" stroke-width="1.6" fill="none" />
<rect x="503.8" y="394.2" width="22.4" height="15.0" rx="0" stroke="#000" stroke-width="1.8" fill="#fff" />
<rect x="507.0" y="411.0" width="14.3" height="13.5" rx="0" stroke="#000" stroke-width="1.6" fill="#fff" />
<line x1="521.3" y1="411.0" x2="521.3" y2="425.0" stroke="#000" stroke-width="2.2" />
<rect x="504.2" y="432.5" width="3.2" height="4.2" rx="0" stroke="#000" stroke-width="0.4" fill="#fff" />
<rect x="524.2" y="432.5" width="3.2" height="4.2" rx="0" stroke="#000" stroke-width="0.4" fill="#fff" />
<rect x="510.4" y="425.9" width="11.8" height="22.6" rx="0" stroke="#000" stroke-width="1.8" fill="#fff" />
<line x1="510.4" y1="428.5" x2="522.2" y2="427.0" stroke="#000" stroke-width="1.0" />
<circle cx="516.8" cy="440.4" r="1.7" stroke="#000" stroke-width="1.7" fill="#fff"/>
<rect x="512.8" y="448.5" width="7.6" height="7.4" rx="0" stroke="#000" stroke-width="1.4" fill="#fff" />
<rect x="511.8" y="455.9" width="11.1" height="19.2" rx="0" stroke="#000" stroke-width="1.8" fill="#fff" />
<circle cx="517.9" cy="466.8" r="1.7" stroke="#000" stroke-width="1.7" fill="#fff"/>
<line x1="594.6" y1="425" x2="594.6" y2="448.5" stroke="#000" stroke-width="2.6" stroke-linecap="round"/>
<path d="M598 418V436.5L602.2 438.5V444Q603 450 607 451.5L609.5 454.5H621L623.5 451.5Q628 450 628.8 444L629.5 438.5L634 436.5L637.2 434.5" stroke="#000" stroke-width="2.1" fill="none" />
<path d="M608 475.5V457.5Q608 455.6 610 455.6H620Q622 455.6 622 457.5V475.5" stroke="#000" stroke-width="2.4" fill="none" />
<path d="M596.4 393.8L597.6 392.2L598.8 393.8L600.0 392.2L601.2 393.8L602.4 392.2L603.6 393.8L603.6 412.2L602.4 413.8L601.2 412.2L600.0 413.8L598.8 412.2L597.6 413.8L596.4 412.2Z" stroke="#000" stroke-width="0.5" fill="#000" />
<rect x="603.2" y="390.0" width="11.4" height="28.4" rx="2" stroke="#000" stroke-width="2.4" fill="#fff" />
<line x1="603.2" y1="397.8" x2="614.6" y2="397.8" stroke="#000" stroke-width="1.6" />
<line x1="603.2" y1="409.4" x2="614.6" y2="409.4" stroke="#000" stroke-width="1.6" />
<rect x="615.2" y="393.5" width="8.2" height="21.5" rx="1.5" stroke="#000" stroke-width="0.5" fill="#000" />
<rect x="617.4" y="396.0" width="1.6" height="8.0" rx="0" stroke="#fff" stroke-width="0.3" fill="#fff" />
<rect x="623.9" y="392.6" width="10.0" height="23.3" rx="1.5" stroke="#000" stroke-width="1.9" fill="#fff" />
<line x1="623.9" y1="403.8" x2="633.9" y2="403.8" stroke="#000" stroke-width="1.6" />
<rect x="634.0" y="391.0" width="3.0" height="27.0" rx="0" stroke="#000" stroke-width="0.9" fill="#fff" />
<rect x="626.4" y="382.6" width="5.0" height="7.6" rx="0" stroke="#000" stroke-width="1.3" fill="#fff" />
<rect x="630.8" y="383.6" width="5.0" height="6.6" rx="0" stroke="#000" stroke-width="1.3" fill="#fff" />
<line x1="593.0" y1="355.0" x2="593.0" y2="448.0" stroke="#000" stroke-width="1.0" />
<path d="M642.5 367.5H692.3V441.2H642.5Q637.2 441.2 637.2 436V372.7Q637.2 367.5 642.5 367.5Z" stroke="#000" stroke-width="2.0" fill="#fff" />
<line x1="659.0" y1="372.0" x2="680.6" y2="372.0" stroke="#000" stroke-width="1.4" />
<line x1="659.0" y1="387.5" x2="680.6" y2="387.5" stroke="#000" stroke-width="1.4" />
<line x1="659.0" y1="420.2" x2="680.6" y2="420.2" stroke="#000" stroke-width="1.4" />
<line x1="659.0" y1="436.8" x2="680.6" y2="436.8" stroke="#000" stroke-width="1.4" />
<path d="M692.3 391.8H653.2L649 387.6H642" stroke="#000" stroke-width="1.6" fill="none" />
<path d="M692.3 416.8H653.2L649 421H642" stroke="#000" stroke-width="1.6" fill="none" />
<rect x="654.0" y="392.2" width="7.6" height="24.2" rx="0" stroke="#000" stroke-width="0.3" fill="#000" />
<rect x="666.2" y="393.0" width="1.8" height="23.0" rx="0" stroke="#000" stroke-width="0.3" fill="#000" />
<rect x="672.4" y="393.0" width="6.4" height="23.0" rx="0" stroke="#000" stroke-width="0.3" fill="#000" />
<line x1="661.0" y1="393.0" x2="681.0" y2="393.0" stroke="#000" stroke-width="1.6" />
<line x1="661.0" y1="416.0" x2="681.0" y2="416.0" stroke="#000" stroke-width="1.6" />
<rect x="681.6" y="394.5" width="8.6" height="20.0" rx="0" stroke="#555" stroke-width="0.9" fill="#fff" />
<line x1="684.0" y1="396.0" x2="684.0" y2="413.0" stroke="#777" stroke-width="0.9" />
<path d="M641.5 370Q644.5 371 644.6 376V386" stroke="#000" stroke-width="1.6" fill="none" />
<path d="M641.5 438.5Q644.5 437.5 644.6 433V423" stroke="#000" stroke-width="1.6" fill="none" />
<line x1="646.8" y1="372.0" x2="646.8" y2="386.0" stroke="#000" stroke-width="0.9" stroke-dasharray="2 1.5"/>
<line x1="646.8" y1="423.0" x2="646.8" y2="437.0" stroke="#000" stroke-width="0.9" stroke-dasharray="2 1.5"/>
<path d="M642 387.6Q640.5 404 642 421" stroke="#000" stroke-width="0.9" fill="none" stroke-dasharray="4 2"/>
<path d="M645 389L649.5 396V412L645 419" stroke="#000" stroke-width="0.9" fill="none" stroke-dasharray="4 2"/>
<path d="M641.6 455.4L643.5 453.8L645.3 455.4L647.1 453.8L649.0 455.4L650.9 453.8L652.7 455.4L654.6 453.8L656.4 455.4L656.4 468.2L654.5 469.8L652.7 468.2L650.9 469.8L649.0 468.2L647.1 469.8L645.3 468.2L643.4 469.8L641.6 468.2Z" stroke="#000" stroke-width="0.5" fill="#000" />
<rect x="675.5" y="441.2" width="4.3" height="35.6" rx="0" stroke="#000" stroke-width="1.3" fill="#fff" />
<rect x="656.5" y="447.6" width="11.6" height="28.3" rx="2" stroke="#000" stroke-width="2.4" fill="#fff" />
<line x1="656.5" y1="455.0" x2="668.1" y2="455.0" stroke="#000" stroke-width="1.6" />
<line x1="656.5" y1="467.6" x2="668.1" y2="467.6" stroke="#000" stroke-width="1.6" />
<rect x="668.8" y="450.5" width="6.4" height="23.0" rx="1.5" stroke="#000" stroke-width="0.5" fill="#000" />
<rect x="670.6" y="453.0" width="1.5" height="9.0" rx="0" stroke="#fff" stroke-width="0.3" fill="#fff" />
<rect x="680.6" y="448.4" width="9.4" height="26.7" rx="1.5" stroke="#000" stroke-width="1.9" fill="#fff" />
<line x1="680.6" y1="461.7" x2="690.0" y2="461.7" stroke="#000" stroke-width="1.6" />
<ellipse cx="15" cy="509" rx="2.4" ry="1.6" fill="#d4d4d4" stroke="none"/>
<ellipse cx="43.5" cy="509" rx="2.4" ry="1.6" fill="#d4d4d4" stroke="none"/>
<ellipse cx="71" cy="509" rx="2.4" ry="1.6" fill="#d4d4d4" stroke="none"/>
<ellipse cx="99" cy="509" rx="2.4" ry="1.6" fill="#d4d4d4" stroke="none"/>
<ellipse cx="128" cy="509" rx="2.4" ry="1.6" fill="#d4d4d4" stroke="none"/>
<ellipse cx="156.5" cy="509" rx="2.4" ry="1.6" fill="#d4d4d4" stroke="none"/>
<ellipse cx="186" cy="509" rx="2.4" ry="1.6" fill="#d4d4d4" stroke="none"/>
<ellipse cx="216" cy="509" rx="2.4" ry="1.6" fill="#d4d4d4" stroke="none"/>
<ellipse cx="246" cy="509" rx="2.4" ry="1.6" fill="#d4d4d4" stroke="none"/>
<ellipse cx="277.5" cy="509" rx="2.4" ry="1.6" fill="#d4d4d4" stroke="none"/>
<ellipse cx="309" cy="509" rx="2.4" ry="1.6" fill="#d4d4d4" stroke="none"/>
<ellipse cx="341.5" cy="509" rx="2.4" ry="1.6" fill="#d4d4d4" stroke="none"/>
<ellipse cx="375" cy="509" rx="2.4" ry="1.6" fill="#d4d4d4" stroke="none"/>
<ellipse cx="410" cy="509" rx="2.4" ry="1.6" fill="#d4d4d4" stroke="none"/>
<ellipse cx="444" cy="509" rx="2.4" ry="1.6" fill="#d4d4d4" stroke="none"/>
<ellipse cx="479" cy="509" rx="2.4" ry="1.6" fill="#d4d4d4" stroke="none"/>
<ellipse cx="514" cy="509" rx="2.4" ry="1.6" fill="#d4d4d4" stroke="none"/>
<ellipse cx="550" cy="509" rx="2.4" ry="1.6" fill="#d4d4d4" stroke="none"/>
<ellipse cx="587.5" cy="509" rx="2.4" ry="1.6" fill="#d4d4d4" stroke="none"/>
<ellipse cx="625" cy="509" rx="2.4" ry="1.6" fill="#d4d4d4" stroke="none"/>
<ellipse cx="662.5" cy="509" rx="2.4" ry="1.6" fill="#d4d4d4" stroke="none"/>
<ellipse cx="701.5" cy="509" rx="2.4" ry="1.6" fill="#d4d4d4" stroke="none"/>
<line x1="96.8" y1="11.0" x2="96.8" y2="131.0" stroke="#000" stroke-width="1.0" />
<line x1="96.8" y1="135.8" x2="96.8" y2="168.0" stroke="#000" stroke-width="1.0" />
<line x1="96.8" y1="17.0" x2="376.5" y2="17.0" stroke="#000" stroke-width="1.0" />
<path d="M96.8 17.0L103.3 15.2L103.3 18.8Z" fill="#000" stroke="none"/>
<path d="M376.5 17.0L370.0 18.8L370.0 15.2Z" fill="#000" stroke="none"/>
<line x1="376.5" y1="10.5" x2="376.5" y2="179.0" stroke="#000" stroke-width="1.0" />
<g transform="translate(236.7 12.9)">
<text transform="translate(-20.17 0) scale(0.93 1)" font-size="9.9" style="stroke-width:0.05px">98</text>
<path d="M-5.04 -9.6H-8.64V2.3H-5.04" fill="none" stroke="#000" stroke-width="1"/>
<text transform="translate(-3.54 0) scale(0.93 1)" font-size="9.9" style="stroke-width:0.05px">3.88</text>
<path d="M15.57 -9.6H19.17V2.3H15.57" fill="none" stroke="#000" stroke-width="1"/>
</g>
<line x1="96.8" y1="34.0" x2="355.7" y2="34.0" stroke="#000" stroke-width="1.0" />
<path d="M96.8 34.0L103.3 32.2L103.3 35.8Z" fill="#000" stroke="none"/>
<path d="M355.7 34.0L349.2 35.8L349.2 32.2Z" fill="#000" stroke="none"/>
<line x1="355.7" y1="27.5" x2="355.7" y2="135.0" stroke="#000" stroke-width="1.0" />
<g transform="translate(226.2 29.9)">
<text transform="translate(-20.17 0) scale(0.93 1)" font-size="9.9" style="stroke-width:0.05px">91</text>
<path d="M-5.04 -9.6H-8.64V2.3H-5.04" fill="none" stroke="#000" stroke-width="1"/>
<text transform="translate(-3.54 0) scale(0.93 1)" font-size="9.9" style="stroke-width:0.05px">3.59</text>
<path d="M15.57 -9.6H19.17V2.3H15.57" fill="none" stroke="#000" stroke-width="1"/>
</g>
<line x1="96.8" y1="51.0" x2="318.9" y2="51.0" stroke="#000" stroke-width="1.0" />
<path d="M96.8 51.0L103.3 49.2L103.3 52.8Z" fill="#000" stroke="none"/>
<path d="M318.9 51.0L312.4 52.8L312.4 49.2Z" fill="#000" stroke="none"/>
<line x1="318.9" y1="44.5" x2="318.9" y2="127.0" stroke="#000" stroke-width="1.0" />
<g transform="translate(207.8 46.9)">
<text transform="translate(-20.17 0) scale(0.93 1)" font-size="9.9" style="stroke-width:0.05px">78</text>
<path d="M-5.04 -9.6H-8.64V2.3H-5.04" fill="none" stroke="#000" stroke-width="1"/>
<text transform="translate(-3.54 0) scale(0.93 1)" font-size="9.9" style="stroke-width:0.05px">3.08</text>
<path d="M15.57 -9.6H19.17V2.3H15.57" fill="none" stroke="#000" stroke-width="1"/>
</g>
<line x1="96.8" y1="68.0" x2="298.1" y2="68.0" stroke="#000" stroke-width="1.0" />
<path d="M96.8 68.0L103.3 66.2L103.3 69.8Z" fill="#000" stroke="none"/>
<path d="M298.1 68.0L291.6 69.8L291.6 66.2Z" fill="#000" stroke="none"/>
<line x1="298.1" y1="61.0" x2="298.1" y2="118.0" stroke="#000" stroke-width="1.0" />
<g transform="translate(197.5 63.9)">
<text transform="translate(-20.17 0) scale(0.93 1)" font-size="9.9" style="stroke-width:0.05px">71</text>
<path d="M-5.04 -9.6H-8.64V2.3H-5.04" fill="none" stroke="#000" stroke-width="1"/>
<text transform="translate(-3.54 0) scale(0.93 1)" font-size="9.9" style="stroke-width:0.05px">2.79</text>
<path d="M15.57 -9.6H19.17V2.3H15.57" fill="none" stroke="#000" stroke-width="1"/>
</g>
<line x1="96.8" y1="85.0" x2="239.5" y2="85.0" stroke="#000" stroke-width="1.0" />
<path d="M96.8 85.0L103.3 83.2L103.3 86.8Z" fill="#000" stroke="none"/>
<path d="M239.5 85.0L233.0 86.8L233.0 83.2Z" fill="#000" stroke="none"/>
<line x1="239.5" y1="79.0" x2="239.5" y2="125.0" stroke="#000" stroke-width="1.0" />
<g transform="translate(168.2 80.9)">
<text transform="translate(-20.17 0) scale(0.93 1)" font-size="9.9" style="stroke-width:0.05px">50</text>
<path d="M-5.04 -9.6H-8.64V2.3H-5.04" fill="none" stroke="#000" stroke-width="1"/>
<text transform="translate(-3.54 0) scale(0.93 1)" font-size="9.9" style="stroke-width:0.05px">1.98</text>
<path d="M15.57 -9.6H19.17V2.3H15.57" fill="none" stroke="#000" stroke-width="1"/>
</g>
<line x1="96.8" y1="102.0" x2="215.5" y2="102.0" stroke="#000" stroke-width="1.0" />
<path d="M96.8 102.0L103.3 100.2L103.3 103.8Z" fill="#000" stroke="none"/>
<path d="M215.5 102.0L209.0 103.8L209.0 100.2Z" fill="#000" stroke="none"/>
<line x1="215.5" y1="96.0" x2="215.5" y2="118.0" stroke="#000" stroke-width="1.0" />
<g transform="translate(156.2 97.9)">
<text transform="translate(-20.17 0) scale(0.93 1)" font-size="9.9" style="stroke-width:0.05px">42</text>
<path d="M-5.04 -9.6H-8.64V2.3H-5.04" fill="none" stroke="#000" stroke-width="1"/>
<text transform="translate(-3.54 0) scale(0.93 1)" font-size="9.9" style="stroke-width:0.05px">1.65</text>
<path d="M15.57 -9.6H19.17V2.3H15.57" fill="none" stroke="#000" stroke-width="1"/>
</g>
<line x1="137.4" y1="122.7" x2="188.2" y2="122.7" stroke="#000" stroke-width="1.0" />
<path d="M137.4 122.7L143.9 121.0L143.9 124.5Z" fill="#000" stroke="none"/>
<path d="M188.2 122.7L181.7 124.5L181.7 121.0Z" fill="#000" stroke="none"/>
<line x1="137.4" y1="116.0" x2="137.4" y2="153.0" stroke="#000" stroke-width="1.0" />
<line x1="188.2" y1="116.0" x2="188.2" y2="153.0" stroke="#000" stroke-width="1.0" />
<g transform="translate(162.8 118.6)">
<text transform="translate(-20.17 0) scale(0.93 1)" font-size="9.9" style="stroke-width:0.05px">18</text>
<path d="M-5.04 -9.6H-8.64V2.3H-5.04" fill="none" stroke="#000" stroke-width="1"/>
<text transform="translate(-3.54 0) scale(0.93 1)" font-size="9.9" style="stroke-width:0.05px">0.71</text>
<path d="M15.57 -9.6H19.17V2.3H15.57" fill="none" stroke="#000" stroke-width="1"/>
</g>
<line x1="73.3" y1="133.5" x2="104.0" y2="133.5" stroke="#000" stroke-width="1.0" />
<line x1="73.3" y1="246.8" x2="104.0" y2="246.8" stroke="#000" stroke-width="1.0" />
<line x1="79.4" y1="133.8" x2="79.4" y2="246.5" stroke="#000" stroke-width="1.0" />
<path d="M79.4 133.8L81.2 140.3L77.7 140.3Z" fill="#000" stroke="none"/>
<path d="M79.4 246.5L77.7 240.0L81.2 240.0Z" fill="#000" stroke="none"/>
<g transform="translate(75.3 190.2) rotate(-90)">
<text transform="translate(-20.17 0) scale(0.93 1)" font-size="9.9" style="stroke-width:0.05px">40</text>
<path d="M-5.04 -9.6H-8.64V2.3H-5.04" fill="none" stroke="#000" stroke-width="1"/>
<text transform="translate(-3.54 0) scale(0.93 1)" font-size="9.9" style="stroke-width:0.05px">1.57</text>
<path d="M15.57 -9.6H19.17V2.3H15.57" fill="none" stroke="#000" stroke-width="1"/>
</g>
<text transform="translate(79.6 264.8) scale(1.0 1)" font-size="10.00" text-anchor="end" font-weight="normal" >6.3mm [0.25]</text>
<text transform="translate(79.6 274.9) scale(1.0 1)" font-size="10.00" text-anchor="end" font-weight="normal" >SPADE</text>
<text transform="translate(79.6 284.9) scale(1.0 1)" font-size="10.00" text-anchor="end" font-weight="normal" >TERMINALS</text>
<text transform="translate(79.6 294.9) scale(1.0 1)" font-size="10.00" text-anchor="end" font-weight="normal" >FOR COIL</text>
<text transform="translate(79.6 305.0) scale(1.0 1)" font-size="10.00" text-anchor="end" font-weight="normal" >CONNECTIONS</text>
<path d="M81.5 262.5H88.2L135.5 232.5" stroke="#000" stroke-width="1.0" fill="none" />
<path d="M137.6 231.2L132.9 236.0L131.3 233.4Z" fill="#000" stroke="none"/>
<line x1="88.2" y1="282.1" x2="215.6" y2="282.1" stroke="#000" stroke-width="1.0" />
<path d="M88.2 282.1L94.7 280.4L94.7 283.9Z" fill="#000" stroke="none"/>
<path d="M215.6 282.1L209.1 283.9L209.1 280.4Z" fill="#000" stroke="none"/>
<line x1="88.2" y1="276.0" x2="88.2" y2="379.5" stroke="#000" stroke-width="1.0" />
<line x1="215.6" y1="276.0" x2="215.6" y2="345.0" stroke="#000" stroke-width="1.0" />
<g transform="translate(152.2 278.0)">
<text transform="translate(-20.17 0) scale(0.93 1)" font-size="9.9" style="stroke-width:0.05px">45</text>
<path d="M-5.04 -9.6H-8.64V2.3H-5.04" fill="none" stroke="#000" stroke-width="1"/>
<text transform="translate(-3.54 0) scale(0.93 1)" font-size="9.9" style="stroke-width:0.05px">1.77</text>
<path d="M15.57 -9.6H19.17V2.3H15.57" fill="none" stroke="#000" stroke-width="1"/>
</g>
<line x1="148.2" y1="301.4" x2="215.6" y2="301.4" stroke="#000" stroke-width="1.0" />
<path d="M189.4 301.4L195.9 299.6L195.9 303.1Z" fill="#000" stroke="none"/>
<path d="M215.6 301.4L209.1 303.1L209.1 299.6Z" fill="#000" stroke="none"/>
<line x1="189.4" y1="296.0" x2="189.4" y2="370.0" stroke="#000" stroke-width="1.0" />
<g transform="translate(167.1 297.5)">
<text transform="translate(-17.61 0) scale(0.93 1)" font-size="9.9" style="stroke-width:0.05px">9</text>
<path d="M-7.59 -9.6H-11.19V2.3H-7.59" fill="none" stroke="#000" stroke-width="1"/>
<text transform="translate(-6.09 0) scale(0.93 1)" font-size="9.9" style="stroke-width:0.05px">0.37</text>
<path d="M13.01 -9.6H16.61V2.3H13.01" fill="none" stroke="#000" stroke-width="1"/>
</g>
<line x1="97.6" y1="318.9" x2="189.4" y2="318.9" stroke="#000" stroke-width="1.0" />
<path d="M153.1 318.9L159.6 317.1L159.6 320.6Z" fill="#000" stroke="none"/>
<path d="M189.4 318.9L182.9 320.6L182.9 317.1Z" fill="#000" stroke="none"/>
<line x1="153.1" y1="312.0" x2="153.1" y2="370.0" stroke="#000" stroke-width="1.0" />
<g transform="translate(121.9 315.0)">
<text transform="translate(-24.00 0) scale(0.93 1)" font-size="9.9" style="stroke-width:0.05px">12.7</text>
<path d="M-1.20 -9.6H-4.80V2.3H-1.20" fill="none" stroke="#000" stroke-width="1"/>
<text transform="translate(0.30 0) scale(0.93 1)" font-size="9.9" style="stroke-width:0.05px">0.50</text>
<path d="M19.40 -9.6H23.00V2.3H19.40" fill="none" stroke="#000" stroke-width="1"/>
</g>
<line x1="67.5" y1="375.9" x2="143.0" y2="375.9" stroke="#000" stroke-width="1.0" />
<line x1="68.1" y1="425.8" x2="139.0" y2="425.8" stroke="#000" stroke-width="1.0" />
<line x1="73.8" y1="375.9" x2="73.8" y2="425.8" stroke="#000" stroke-width="1.0" />
<path d="M73.8 375.9L75.5 382.4L72.0 382.4Z" fill="#000" stroke="none"/>
<path d="M73.8 425.8L72.0 419.3L75.5 419.3Z" fill="#000" stroke="none"/>
<g transform="translate(69.7 400.9) rotate(-90)">
<text transform="translate(-20.17 0) scale(0.93 1)" font-size="9.9" style="stroke-width:0.05px">17</text>
<path d="M-5.04 -9.6H-8.64V2.3H-5.04" fill="none" stroke="#000" stroke-width="1"/>
<text transform="translate(-3.54 0) scale(0.93 1)" font-size="9.9" style="stroke-width:0.05px">0.69</text>
<path d="M15.57 -9.6H19.17V2.3H15.57" fill="none" stroke="#000" stroke-width="1"/>
</g>
<text transform="translate(82.6 444.0) scale(1.0 1)" font-size="10.00" text-anchor="end" font-weight="normal" >OPTIONAL END</text>
<text transform="translate(82.6 454.0) scale(1.0 1)" font-size="10.00" text-anchor="end" font-weight="normal" >CAP CAN BE</text>
<text transform="translate(82.6 464.0) scale(1.0 1)" font-size="10.00" text-anchor="end" font-weight="normal" >FITTED HERE</text>
<path d="M85 450.9H91.4L96.7 421" stroke="#000" stroke-width="1.0" fill="none" />
<path d="M97.1 418.8L97.7 425.5L94.2 424.9Z" fill="#000" stroke="none"/>
<text transform="translate(171.5 483.0)" font-size="10.00" text-anchor="end" font-weight="normal" textLength="107.7" lengthAdjust="spacingAndGlyphs" >M4 MOUNTING HOLES</text>
<text transform="translate(171.5 492.9)" font-size="10.00" text-anchor="end" font-weight="normal" textLength="83.9" lengthAdjust="spacingAndGlyphs" >(4 OFF PER SIDE)</text>
<path d="M172.5 485.2H180L188.4 433.5" stroke="#000" stroke-width="1.0" fill="none" />
<path d="M188.8 431.3L189.5 438.0L186.0 437.4Z" fill="#000" stroke="none"/>
<text transform="translate(250.2 473.2) scale(1.0 1)" font-size="10.00" text-anchor="start" font-weight="normal" >OPTIONAL CLOSED CONTACT</text>
<text transform="translate(250.2 483.3) scale(1.0 1)" font-size="10.00" text-anchor="start" font-weight="normal" >HOUSING CAN BE SUPPLIED TO</text>
<text transform="translate(250.2 493.5) scale(1.0 1)" font-size="10.00" text-anchor="start" font-weight="normal" >PREVENT INGRESS OF DUST ETC.</text>
<path d="M247.6 480.9H241.6L235.4 422.5" stroke="#000" stroke-width="1.0" fill="none" />
<path d="M235.1 420.0L237.5 426.3L234.0 426.6Z" fill="#000" stroke="none"/>
<text transform="translate(371.5 254.5) scale(1.0 1)" font-size="10.00" text-anchor="start" font-weight="normal" >M8 MAIN TERMINALS</text>
<text transform="translate(371.5 264.5) scale(1.0 1)" font-size="10.00" text-anchor="start" font-weight="normal" >TO BE TIGHTENED</text>
<text transform="translate(371.5 274.5) scale(1.0 1)" font-size="10.00" text-anchor="start" font-weight="normal" >WITHIN RANGE 8 - 9.5Nm</text>
<path d="M369.5 261.4H362.7L355.2 243.6" stroke="#000" stroke-width="1.0" fill="none" />
<path d="M354.0 241.3L358.2 246.6L354.9 248.0Z" fill="#000" stroke="none"/>
<text transform="translate(487.8 188.6) scale(1.0 1)" font-size="10.00" text-anchor="end" font-weight="normal" >NORMALLY CLOSED</text>
<text transform="translate(487.8 198.1) scale(1.0 1)" font-size="10.00" text-anchor="end" font-weight="normal" >FIXED CONTACTS</text>
<path d="M490 191.2H497" stroke="#000" stroke-width="1.0" fill="none" />
<path d="M497 191.2L501 169.5" stroke="#000" stroke-width="1.0" fill="none" />
<path d="M497 191.2L503.8 217.8" stroke="#000" stroke-width="1.0" fill="none" />
<path d="M501.4 167.3L501.9 174.0L498.5 173.4Z" fill="#000" stroke="none"/>
<path d="M504.4 220.0L501.1 214.1L504.5 213.3Z" fill="#000" stroke="none"/>
<text transform="translate(383.2 306.2)" font-size="10.00" text-anchor="start" font-weight="normal" textLength="260.8" lengthAdjust="spacingAndGlyphs" >OPTIONAL MICROSWITCH AUXILIARY CONTACT WITH</text>
<text transform="translate(383.2 316.7)" font-size="10.00" text-anchor="start" font-weight="normal" textLength="263.3" lengthAdjust="spacingAndGlyphs" >6.3mm [0.25] SPADE TERMINALS CAN BE FITTED HERE</text>
<path d="M381.5 310H377.3L362.2 359.3" stroke="#000" stroke-width="1.0" fill="none" />
<path d="M361.5 361.4L361.7 354.7L365.0 355.7Z" fill="#000" stroke="none"/>
<line x1="492.5" y1="107.5" x2="544.6" y2="107.5" stroke="#000" stroke-width="1.0" />
<path d="M492.5 107.5L499.0 105.8L499.0 109.2Z" fill="#000" stroke="none"/>
<path d="M544.6 107.5L538.1 109.2L538.1 105.8Z" fill="#000" stroke="none"/>
<line x1="544.6" y1="107.5" x2="655.6" y2="107.5" stroke="#000" stroke-width="1.0" />
<path d="M544.6 107.5L551.1 105.8L551.1 109.2Z" fill="#000" stroke="none"/>
<path d="M655.6 107.5L649.1 109.2L649.1 105.8Z" fill="#000" stroke="none"/>
<line x1="492.5" y1="101.6" x2="492.5" y2="131.0" stroke="#000" stroke-width="1.0" />
<line x1="544.6" y1="101.6" x2="544.6" y2="117.0" stroke="#000" stroke-width="1.0" />
<line x1="655.6" y1="101.6" x2="655.6" y2="116.5" stroke="#000" stroke-width="1.0" />
<g transform="translate(519.0 103.3)">
<text transform="translate(-20.17 0) scale(0.93 1)" font-size="9.9" style="stroke-width:0.05px">19</text>
<path d="M-5.04 -9.6H-8.64V2.3H-5.04" fill="none" stroke="#000" stroke-width="1"/>
<text transform="translate(-3.54 0) scale(0.93 1)" font-size="9.9" style="stroke-width:0.05px">0.73</text>
<path d="M15.57 -9.6H19.17V2.3H15.57" fill="none" stroke="#000" stroke-width="1"/>
</g>
<g transform="translate(600.0 103.3)">
<text transform="translate(-20.17 0) scale(0.93 1)" font-size="9.9" style="stroke-width:0.05px">39</text>
<path d="M-5.04 -9.6H-8.64V2.3H-5.04" fill="none" stroke="#000" stroke-width="1"/>
<text transform="translate(-3.54 0) scale(0.93 1)" font-size="9.9" style="stroke-width:0.05px">1.54</text>
<path d="M15.57 -9.6H19.17V2.3H15.57" fill="none" stroke="#000" stroke-width="1"/>
</g>
<line x1="620.0" y1="149.6" x2="683.5" y2="149.6" stroke="#000" stroke-width="1.0" />
<line x1="620.0" y1="230.6" x2="683.5" y2="230.6" stroke="#000" stroke-width="1.0" />
<line x1="678.5" y1="149.6" x2="678.5" y2="230.6" stroke="#000" stroke-width="1.0" />
<path d="M678.5 149.6L680.2 156.1L676.8 156.1Z" fill="#000" stroke="none"/>
<path d="M678.5 230.6L676.8 224.1L680.2 224.1Z" fill="#000" stroke="none"/>
<g transform="translate(674.4 190.1) rotate(-90)">
<text transform="translate(-20.17 0) scale(0.93 1)" font-size="9.9" style="stroke-width:0.05px">29</text>
<path d="M-5.04 -9.6H-8.64V2.3H-5.04" fill="none" stroke="#000" stroke-width="1"/>
<text transform="translate(-3.54 0) scale(0.93 1)" font-size="9.9" style="stroke-width:0.05px">1.12</text>
<path d="M15.57 -9.6H19.17V2.3H15.57" fill="none" stroke="#000" stroke-width="1"/>
</g>
<line x1="656.0" y1="119.1" x2="707.0" y2="119.1" stroke="#000" stroke-width="1.0" />
<line x1="656.0" y1="261.1" x2="707.0" y2="261.1" stroke="#000" stroke-width="1.0" />
<line x1="701.7" y1="119.1" x2="701.7" y2="261.1" stroke="#000" stroke-width="1.0" />
<path d="M701.7 119.1L703.5 125.6L700.0 125.6Z" fill="#000" stroke="none"/>
<path d="M701.7 261.1L700.0 254.6L703.5 254.6Z" fill="#000" stroke="none"/>
<g transform="translate(697.3 190.0) rotate(-90)">
<text transform="translate(-20.17 0) scale(0.93 1)" font-size="9.9" style="stroke-width:0.05px">50</text>
<path d="M-5.04 -9.6H-8.64V2.3H-5.04" fill="none" stroke="#000" stroke-width="1"/>
<text transform="translate(-3.54 0) scale(0.93 1)" font-size="9.9" style="stroke-width:0.05px">1.97</text>
<path d="M15.57 -9.6H19.17V2.3H15.57" fill="none" stroke="#000" stroke-width="1"/>
</g>
<line x1="513.8" y1="257.6" x2="513.8" y2="286.4" stroke="#000" stroke-width="1.0" />
<line x1="600.9" y1="258.0" x2="600.9" y2="286.4" stroke="#000" stroke-width="1.0" />
<line x1="513.8" y1="283.2" x2="600.9" y2="283.2" stroke="#000" stroke-width="1.0" />
<path d="M513.8 283.2L520.3 281.4L520.3 284.9Z" fill="#000" stroke="none"/>
<path d="M600.9 283.2L594.4 284.9L594.4 281.4Z" fill="#000" stroke="none"/>
<g transform="translate(557.4 279.1)">
<text transform="translate(-24.00 0) scale(0.93 1)" font-size="9.9" style="stroke-width:0.05px">30.5</text>
<path d="M-1.20 -9.6H-4.80V2.3H-1.20" fill="none" stroke="#000" stroke-width="1"/>
<text transform="translate(0.30 0) scale(0.93 1)" font-size="9.9" style="stroke-width:0.05px">1.20</text>
<path d="M19.40 -9.6H23.00V2.3H19.40" fill="none" stroke="#000" stroke-width="1"/>
</g>
<line x1="450.0" y1="367.4" x2="467.0" y2="367.4" stroke="#000" stroke-width="1.0" />
<line x1="450.0" y1="475.2" x2="507.5" y2="475.2" stroke="#000" stroke-width="1.0" />
<line x1="456.3" y1="367.4" x2="456.3" y2="475.2" stroke="#000" stroke-width="1.0" />
<path d="M456.3 367.4L458.1 373.9L454.6 373.9Z" fill="#000" stroke="none"/>
<path d="M456.3 475.2L454.6 468.7L458.1 468.7Z" fill="#000" stroke="none"/>
<g transform="translate(452.2 421.3) rotate(-90)">
<text transform="translate(-20.17 0) scale(0.93 1)" font-size="9.9" style="stroke-width:0.05px">57</text>
<path d="M-5.04 -9.6H-8.64V2.3H-5.04" fill="none" stroke="#000" stroke-width="1"/>
<text transform="translate(-3.54 0) scale(0.93 1)" font-size="9.9" style="stroke-width:0.05px">2.24</text>
<path d="M15.57 -9.6H19.17V2.3H15.57" fill="none" stroke="#000" stroke-width="1"/>
</g>
<line x1="593.0" y1="361.2" x2="636.5" y2="361.2" stroke="#000" stroke-width="1.0" />
<path d="M593.0 361.2L599.5 359.4L599.5 362.9Z" fill="#000" stroke="none"/>
<path d="M636.5 361.2L630.0 362.9L630.0 359.4Z" fill="#000" stroke="none"/>
<line x1="636.5" y1="355.0" x2="636.5" y2="367.0" stroke="#000" stroke-width="1.0" />
<g transform="translate(614.7 357.1)">
<text transform="translate(-20.17 0) scale(0.93 1)" font-size="9.9" style="stroke-width:0.05px">23</text>
<path d="M-5.04 -9.6H-8.64V2.3H-5.04" fill="none" stroke="#000" stroke-width="1"/>
<text transform="translate(-3.54 0) scale(0.93 1)" font-size="9.9" style="stroke-width:0.05px">0.91</text>
<path d="M15.57 -9.6H19.17V2.3H15.57" fill="none" stroke="#000" stroke-width="1"/>
</g>
<path d="M518.8 468.4L522.7 490.2H530.4" stroke="#000" stroke-width="1.0" fill="none" />
</svg>
</body></html>
